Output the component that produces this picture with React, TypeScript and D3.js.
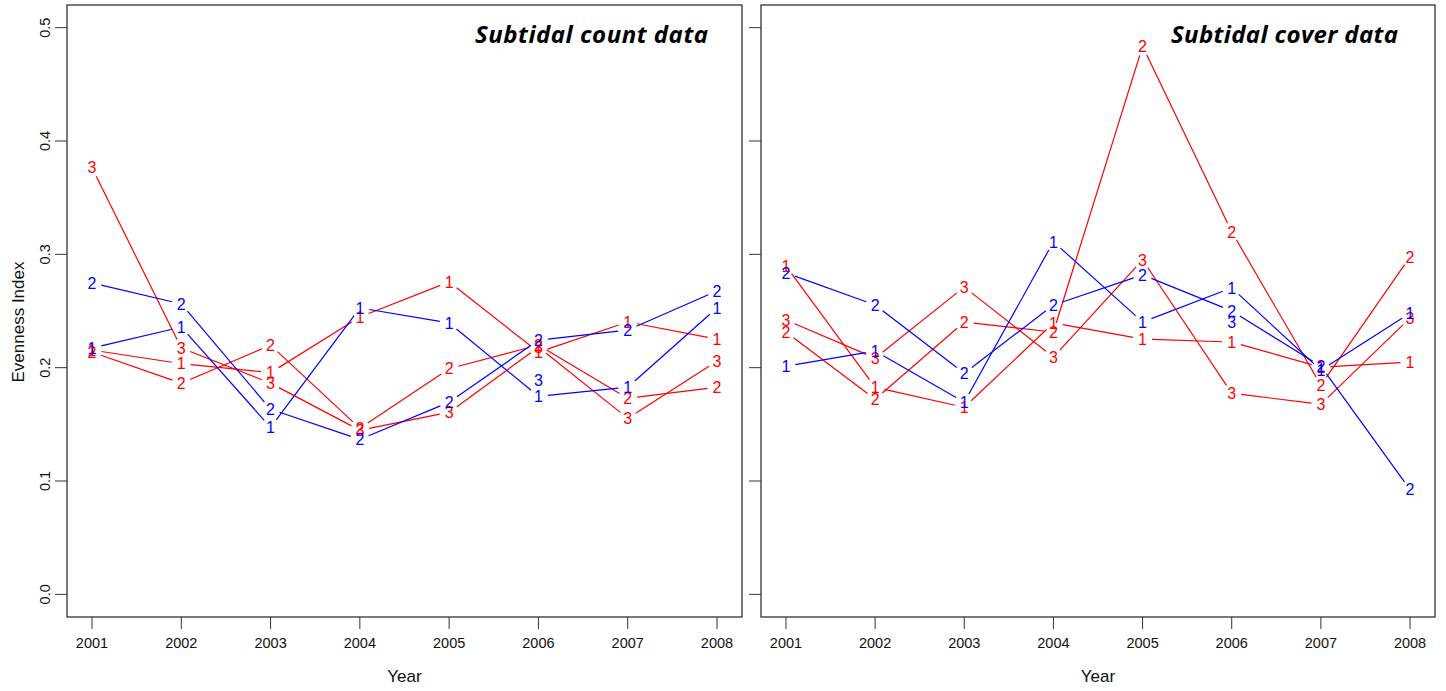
import React from "react";
import * as d3 from "d3";

// Sampling years shared by both panels
const years = [2001, 2002, 2003, 2004, 2005, 2006, 2007, 2008];
const yTicks = [0.0, 0.1, 0.2, 0.3, 0.4, 0.5];
const yTickLabels = ["0.0", "0.1", "0.2", "0.3", "0.4", "0.5"];

// Subtidal count data: evenness per site (red and blue groups, sites 1–3)
const countRed1 = [0.2155, 0.2035, 0.1956, 0.2447, 0.2757, 0.2137, 0.2403, 0.2252];
const countRed2 = [0.2137, 0.1863, 0.2199, 0.1465, 0.1991, 0.2199, 0.1730, 0.1827];
const countRed3 = [0.3765, 0.2173, 0.1863, 0.1447, 0.1606, 0.2181, 0.1553, 0.2058];
const countBlue1 = [0.2173, 0.2358, 0.1473, 0.2527, 0.2394, 0.1748, 0.1827, 0.2527];
const countBlue2 = [0.2748, 0.2562, 0.1633, 0.1367, 0.1695, 0.2243, 0.2332, 0.2677];
const countBlue3 = [null, null, null, null, null, 0.1889, null, null];

// Subtidal cover data
const coverRed1 = [0.2898, 0.1827, 0.1650, 0.2394, 0.2252, 0.2226, 0.2004, 0.2049];
const coverRed2 = [0.2314, 0.1721, 0.2403, 0.2314, 0.4836, 0.3199, 0.1845, 0.2978];
const coverRed3 = [0.2420, 0.2084, 0.2712, 0.2093, 0.2951, 0.1774, 0.1677, 0.2438];
const coverBlue1 = [0.2013, 0.2146, 0.1695, 0.3111, 0.2403, 0.2704, 0.1978, 0.2482];
const coverBlue2 = [0.2836, 0.2553, 0.1951, 0.2553, 0.2819, 0.2500, 0.2013, 0.0925];
const coverBlue3 = [null, null, null, null, null, 0.2403, null, null];

const RED = "#FF0000";
const BLUE = "#0000FF";

type Series = { label: string; color: string; values: (number | null)[] };

const countSeries: Series[] = [
  { label: "1", color: RED, values: countRed1 },
  { label: "2", color: RED, values: countRed2 },
  { label: "3", color: RED, values: countRed3 },
  { label: "1", color: BLUE, values: countBlue1 },
  { label: "2", color: BLUE, values: countBlue2 },
  { label: "3", color: BLUE, values: countBlue3 },
];

const coverSeries: Series[] = [
  { label: "1", color: RED, values: coverRed1 },
  { label: "2", color: RED, values: coverRed2 },
  { label: "3", color: RED, values: coverRed3 },
  { label: "1", color: BLUE, values: coverBlue1 },
  { label: "2", color: BLUE, values: coverBlue2 },
  { label: "3", color: BLUE, values: coverBlue3 },
];

const FONT = "'Liberation Sans', Arial, Helvetica, sans-serif";
const TICK_FS = 14.5;
const PT_FS = 16;
const GAP = 9.5;

type PanelProps = {
  x0: number;
  x1: number;
  y0: number;
  y1: number;
  title: string;
  titleRight: number;
  titleWidth: number;
  series: Series[];
  yLabels: boolean;
};

function Panel({ x0, x1, y0, y1, title, titleRight, titleWidth, series, yLabels }: PanelProps) {
  const x = d3.scaleLinear().domain([2001 - 0.28, 2008 + 0.28]).range([x0, x1]);
  const y = d3.scaleLinear().domain([-0.02, 0.52]).range([y1, y0]);

  const segments: { x1: number; y1: number; x2: number; y2: number; color: string; key: string }[] = [];
  const labels: { x: number; y: number; text: string; color: string; key: string }[] = [];

  series.forEach((s, si) => {
    s.values.forEach((v, i) => {
      if (v == null) return;
      labels.push({ x: x(years[i]), y: y(v), text: s.label, color: s.color, key: `${si}-${i}` });
      const nv = s.values[i + 1];
      if (i + 1 < years.length && nv != null) {
        const ax = x(years[i]), ay = y(v);
        const bx = x(years[i + 1]), by = y(nv);
        const len = Math.hypot(bx - ax, by - ay);
        if (len > 2 * GAP) {
          const ux = (bx - ax) / len, uy = (by - ay) / len;
          segments.push({
            x1: ax + ux * GAP,
            y1: ay + uy * GAP,
            x2: bx - ux * GAP,
            y2: by - uy * GAP,
            color: s.color,
            key: `${si}-${i}`,
          });
        }
      }
    });
  });

  const midX = (x0 + x1) / 2;

  return (
    <g>
      <rect x={x0} y={y0} width={x1 - x0} height={y1 - y0} fill="none" stroke="#222" strokeWidth={1.2} />
      {segments.map((s) => (
        <line key={s.key} x1={s.x1} y1={s.y1} x2={s.x2} y2={s.y2} stroke={s.color} strokeWidth={1.2} />
      ))}
      {labels.map((l) => (
        <text
          key={l.key}
          x={l.x}
          y={l.y + PT_FS * 0.36}
          textAnchor="middle"
          fontSize={PT_FS}
          fontFamily={FONT}
          fill={l.color}
        >
          {l.text}
        </text>
      ))}
      {/* x axis */}
      {years.map((yr) => (
        <g key={yr}>
          <line x1={x(yr)} x2={x(yr)} y1={y1} y2={y1 + 12} stroke="#333" strokeWidth={1} />
          <text x={x(yr)} y={648} textAnchor="middle" fontSize={TICK_FS} fontFamily={FONT} fill="#111">
            {yr}
          </text>
        </g>
      ))}
      {/* y axis */}
      {yTicks.map((t, i) => (
        <g key={t}>
          <line x1={x0 - 12} x2={x0} y1={y(t)} y2={y(t)} stroke="#333" strokeWidth={1} />
          {yLabels && (
            <text
              x={50}
              y={y(t)}
              transform={`rotate(-90, 50, ${y(t)})`}
              textAnchor="middle"
              fontSize={TICK_FS}
              fontFamily={FONT}
              fill="#111"
            >
              {yTickLabels[i]}
            </text>
          )}
        </g>
      ))}
      <text x={midX} y={682} textAnchor="middle" fontSize={17} fontFamily={FONT} fill="#111">
        Year
      </text>
      <text
        x={titleRight}
        y={43}
        textAnchor="end"
        fontSize={24}
        fontWeight="bold"
        fontStyle="italic"
        fontFamily="'Open Sans', 'DejaVu Sans', sans-serif"
        fill="#000"
        textLength={titleWidth}
        lengthAdjust="spacing"
      >
        {title}
      </text>
    </g>
  );
}

export default function App() {
  return (
    <svg
      width={1446}
      height={691}
      style={{ position: "absolute", left: 0, top: 0, background: "#fff" }}
    >
      <rect x={0} y={0} width={1446} height={691} fill="#fff" />
      <Panel
        x0={67}
        x1={742}
        y0={5}
        y1={617}
        title="Subtidal count data"
        titleRight={708}
        titleWidth={233}
        series={countSeries}
        yLabels={true}
      />
      <Panel
        x0={761}
        x1={1435}
        y0={5}
        y1={617}
        title="Subtidal cover data"
        titleRight={1398}
        titleWidth={227}
        series={coverSeries}
        yLabels={false}
      />
      <text
        x={24}
        y={322}
        transform="rotate(-90, 24, 322)"
        textAnchor="middle"
        fontSize={17}
        fontFamily={FONT}
        fill="#111"
      >
        Evenness Index
      </text>
    </svg>
  );
}
